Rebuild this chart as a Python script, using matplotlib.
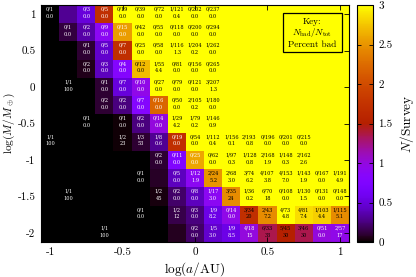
import numpy as np
import matplotlib
matplotlib.use("Agg")
import matplotlib.pyplot as plt
from matplotlib.patches import Rectangle

plt.rcParams["font.family"] = "serif"
plt.rcParams["font.serif"] = ["cmr10"]
plt.rcParams["mathtext.fontset"] = "cm"
plt.rcParams["axes.unicode_minus"] = False
plt.rcParams["axes.formatter.use_mathtext"] = True

# bin centres
log_a = [-1.0, -0.875, -0.75, -0.625, -0.5, -0.375, -0.25, -0.125, 0.0,
         0.125, 0.25, 0.375, 0.5, 0.625, 0.75, 0.875, 1.0]
log_m = [1.0, 0.75, 0.5, 0.25, 0.0, -0.25, -0.5, -0.75, -1.0, -1.25, -1.5, -1.75, -2.0]

# N/Survey map, rows from top (log M = 1) to bottom (log M = -2)
survey = [
    [0.0, 0.3, 0.5, 1.7, 3, 3, 3, 3, 3, 3, 3, 3, 3, 3, 3, 3, 3],
    [0.0, 0.12, 0.35, 0.9, 2.55, 3, 3, 3, 3, 3, 3, 3, 3, 3, 3, 3, 3],
    [0.0, 0.0, 0.1, 0.45, 1.7, 3, 3, 3, 3, 3, 3, 3, 3, 3, 3, 3, 3],
    [0.0, 0.0, 0.05, 0.4, 0.8, 2.7, 3, 3, 3, 3, 3, 3, 3, 3, 3, 3, 3],
    [0.0, 0.0, 0.0, 0.1, 0.5, 0.95, 3, 3, 3, 3, 3, 3, 3, 3, 3, 3, 3],
    [0.0, 0.0, 0.0, 0.1, 0.25, 0.8, 2.2, 3, 3, 3, 3, 3, 3, 3, 3, 3, 3],
    [0.0, 0.0, 0.0, 0.0, 0.02, 0.25, 1.0, 3, 3, 3, 3, 3, 3, 3, 3, 3, 3],
    [0.0, 0.0, 0.0, 0.0, 0.02, 0.1, 0.3, 1.7, 3, 3, 3, 3, 3, 3, 3, 3, 3],
    [0.0, 0.0, 0.0, 0.0, 0.0, 0.0, 0.1, 0.75, 2.6, 3, 3, 3, 3, 3, 3, 3, 3],
    [0.0, 0.0, 0.0, 0.0, 0.0, 0.0, 0.08, 0.4, 0.9, 2.5, 3, 3, 3, 3, 3, 3, 3],
    [0.0, 0.0, 0.0, 0.0, 0.0, 0.0, 0.03, 0.2, 0.4, 0.9, 2.45, 3, 3, 3, 3, 3, 3],
    [0.0, 0.0, 0.0, 0.0, 0.0, 0.0, 0.0, 0.15, 0.25, 0.55, 0.95, 1.7, 2.45, 3.0, 2.85, 2.8, 2.45],
    [0.0, 0.0, 0.0, 0.0, 0.0, 0.0, 0.0, 0.06, 0.2, 0.45, 0.55, 1.0, 1.35, 1.5, 1.35, 1.0, 0.95],
]

# planets per bin: log a, log M, N_bad, N_tot, percent bad
cell_a = [-1.0, -0.75, -0.625, -0.5, -0.375, -0.25, -0.125, 0.0, 0.125,
          -0.875, -0.75, -0.625, -0.5, -0.375, -0.25, -0.125, 0.0, 0.125,
          -0.75, -0.625, -0.5, -0.375, -0.25, -0.125, 0.0, 0.125,
          -0.75, -0.625, -0.5, -0.375, -0.25, -0.125, 0.0, 0.125,
          -0.875, -0.625, -0.5, -0.375, -0.25, -0.125, 0.0, 0.125,
          -0.625, -0.5, -0.375, -0.25, -0.125, 0.0, 0.125,
          -0.75, -0.5, -0.375, -0.25, -0.125, 0.0, 0.125,
          -1.0, -0.5, -0.375, -0.25, -0.125, 0.0, 0.125, 0.25, 0.375, 0.5, 0.625, 0.75,
          -0.25, -0.125, 0.0, 0.125, 0.25, 0.375, 0.5, 0.625, 0.75,
          -0.375, -0.125, 0.0, 0.125, 0.25, 0.375, 0.5, 0.625, 0.75, 0.875, 1.0,
          -0.875, -0.25, -0.125, 0.0, 0.125, 0.25, 0.375, 0.5, 0.625, 0.75, 0.875, 1.0,
          -0.375, -0.125, 0.0, 0.125, 0.25, 0.375, 0.5, 0.625, 0.75, 0.875, 1.0,
          -0.625, 0.0, 0.125, 0.25, 0.375, 0.5, 0.625, 0.75, 0.875, 1.0]
cell_m = ([1.0] * 9 + [0.75] * 9 + [0.5] * 8 + [0.25] * 8 + [0.0] * 8 + [-0.25] * 7
          + [-0.5] * 7 + [-0.75] * 12 + [-1.0] * 9 + [-1.25] * 11 + [-1.5] * 12
          + [-1.75] * 11 + [-2.0] * 10)
n_bad = [0, 0, 0, 0, 0, 0, 1, 0, 0,
         0, 0, 0, 0, 0, 0, 0, 0, 0,
         0, 0, 0, 0, 0, 1, 1, 1,
         0, 0, 0, 0, 1, 0, 0, 0,
         1, 0, 0, 0, 0, 0, 0, 3,
         0, 0, 0, 0, 0, 2, 1,
         0, 0, 0, 0, 1, 1, 1,
         1, 1, 1, 1, 0, 0, 1, 1, 2, 0, 0, 0,
         0, 0, 0, 0, 1, 1, 2, 1, 2,
         0, 0, 1, 2, 2, 3, 4, 4, 1, 0, 1,
         1, 1, 0, 0, 1, 3, 1, 6, 0, 1, 0, 0,
         0, 1, 0, 1, 0, 3, 2, 4, 4, 1, 1,
         1, 0, 1, 1, 4, 6, 5, 3, 0, 2]
n_tot = [1, 3, 5, 19, 39, 72, 121, 202, 237,
         1, 2, 9, 15, 42, 55, 118, 200, 294,
         1, 5, 7, 25, 58, 116, 204, 262,
         2, 3, 4, 12, 55, 81, 156, 265,
         1, 1, 7, 10, 27, 79, 121, 207,
         2, 2, 7, 16, 50, 105, 180,
         1, 1, 2, 14, 29, 79, 146,
         1, 2, 3, 8, 19, 54, 112, 156, 193, 196, 201, 215,
         2, 11, 25, 62, 97, 128, 168, 148, 162,
         1, 5, 12, 24, 68, 74, 107, 153, 143, 167, 191,
         1, 2, 2, 8, 17, 35, 36, 70, 108, 130, 131, 148,
         1, 2, 3, 9, 14, 34, 43, 73, 81, 103, 115,
         1, 2, 5, 9, 18, 33, 45, 46, 51, 57]
pct_bad = [0.0, 0.0, 0.0, 0.0, 0.0, 0.0, 0.4, 0.0, 0.0,
           0.0, 0.0, 0.0, 0.0, 0.0, 0.0, 0.0, 0.0, 0.0,
           0.0, 0.0, 0.0, 0.0, 0.0, 1.3, 0.2, 0.0,
           0.0, 0.0, 0.0, 0.0, 4.4, 0.0, 0.0, 0.0,
           100, 0.0, 0.0, 0.0, 0.0, 0.0, 0.0, 1.3,
           0.0, 0.0, 0.0, 0.0, 0.0, 0.2, 0.0,
           0.0, 0.0, 0.0, 0.0, 4.2, 0.2, 0.9,
           100, 23, 53, 0.6, 0.0, 0.0, 0.4, 0.1, 0.8, 0.0, 0.0, 0.0,
           0.0, 0.0, 0.0, 0.0, 0.3, 0.8, 1.9, 0.3, 2.6,
           0.0, 0.0, 1.9, 5.2, 3.0, 6.2, 3.8, 7.0, 1.9, 0.0, 4.9,
           100, 45, 0.0, 0.0, 3.0, 24, 0.2, 18, 0.0, 1.5, 0.0, 0.0,
           0.0, 12, 0.0, 8.2, 0.0, 20, 7.2, 4.8, 7.4, 4.4, 5.1,
           100, 0.0, 3.0, 8.5, 15, 33, 30, 30, 0.0, 17]

da = 0.125
dm = 0.25
a_edges = np.append(np.array(log_a) - da / 2, log_a[-1] + da / 2)
m_asc = np.array(log_m[::-1])
m_edges = np.append(m_asc - dm / 2, m_asc[-1] + dm / 2)
grid = np.array(survey)[::-1]

fig = plt.figure(figsize=(4.16, 2.77), dpi=100)
ax = fig.add_axes([41 / 416, 1 - 242 / 277, 308 / 416, 237 / 277])
cax = fig.add_axes([357 / 416, 1 - 242 / 277, 16 / 416, 237 / 277])

mesh = ax.pcolormesh(a_edges, m_edges, grid, cmap="gnuplot", vmin=0, vmax=3,
                     shading="flat", rasterized=True)

# lookup of colour value for choosing text colour
col_of = {a: i for i, a in enumerate(log_a)}
row_of = {m: j for j, m in enumerate(log_m)}
for a, m, nb, nt, p in zip(cell_a, cell_m, n_bad, n_tot, pct_bad):
    v = survey[row_of[m]][col_of[a]]
    if v >= 2.7 or (v > 1.2 and nb > 0):
        c = "black"
    else:
        c = "white"
    ptxt = "%d" % p if p >= 10 else "%.1f" % p
    ax.text(a, m + 0.07, "%d/%d" % (nb, nt), ha="center", va="center",
            fontsize=3.6, color=c, family="DejaVu Serif")
    ax.text(a, m - 0.03, ptxt, ha="center", va="center", fontsize=3.6, color=c,
            family="DejaVu Serif")

ax.set_xlim(a_edges[0], a_edges[-1])
ax.set_ylim(m_edges[0], m_edges[-1])
ax.set_xticks([-1, -0.5, 0, 0.5, 1])
ax.set_xticklabels(["-1", "-0.5", "0", "0.5", "1"])
ax.set_yticks([-2, -1.5, -1, -0.5, 0, 0.5, 1])
ax.set_yticklabels(["-2", "-1.5", "-1", "-0.5", "0", "0.5", "1"])
ax.tick_params(direction="in", top=True, right=True, length=3.5, width=0.6,
               labelsize=8, pad=4)
ax.set_xlabel(r"$\log(a/{\rm AU})$", fontsize=9.5, labelpad=2)
ax.set_ylabel(r"$\log(M/M_\oplus)$", fontsize=8.2)
ax.yaxis.set_label_coords(-0.077, 0.5)
for s in ax.spines.values():
    s.set_linewidth(0.8)

# key box
ax.add_patch(Rectangle((0.786, 0.802), 0.191, 0.164, transform=ax.transAxes,
                       fill=False, edgecolor="black", lw=0.9, zorder=5))
ax.text(0.881, 0.930, "Key:", transform=ax.transAxes, ha="center", va="center",
        fontsize=6.6, zorder=6)
ax.text(0.881, 0.884, r"$N_{\rm bad}/N_{\rm tot}$", transform=ax.transAxes,
        ha="center", va="center", fontsize=6.6, zorder=6)
ax.text(0.881, 0.834, "Percent bad", transform=ax.transAxes, ha="center",
        va="center", fontsize=6.6, zorder=6)

cb = fig.colorbar(mesh, cax=cax, ticks=[0, 0.5, 1, 1.5, 2, 2.5, 3])
cb.ax.set_yticklabels(["0", "0.5", "1", "1.5", "2", "2.5", "3"])
cax.tick_params(direction="in", left=True, right=True, length=3, width=0.6,
                labelsize=8, pad=4)
cb.outline.set_linewidth(0.8)
cb.set_label(r"$N$/Survey", fontsize=9.5, labelpad=4)

fig.savefig("out.png", dpi=100)
